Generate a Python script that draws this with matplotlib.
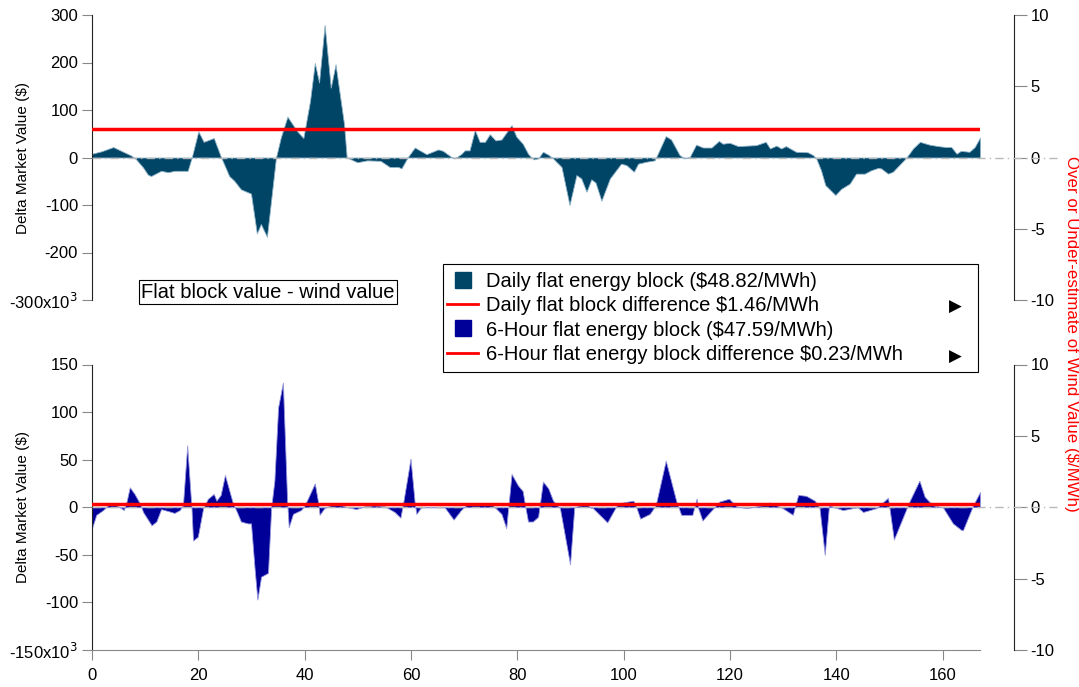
import matplotlib as mpl
mpl.use('Agg')
import matplotlib.pyplot as plt
from matplotlib.lines import Line2D
from matplotlib.patches import Rectangle

mpl.rcParams['font.family'] = ['Liberation Sans', 'DejaVu Sans']
mpl.rcParams['axes.unicode_minus'] = False

# ---- data (hour, delta market value $k) ----
daily_hour = [0, 1.75, 4, 5.5, 7.4, 8.3, 9.6, 10.5, 11.1, 13, 14.3, 15.5, 18, 18.75, 20, 21, 22.9,
              24.25, 25.8, 26.75, 28, 29.9, 31, 31.75, 32.9, 34.6, 35.5, 36.75, 38.6, 39.75, 41,
              41.9, 42.7, 43.75, 44.9, 45.8, 47.4, 47.9, 49.9, 51.75, 54.25, 56, 57.6, 58.2, 59.4,
              60.7, 62.9, 65.1, 66, 67.6, 68.2, 69.5, 70.1, 71, 72, 72.9, 73.9, 74.8, 75.9, 77,
              78.9, 79.8, 81, 82, 83, 83.9, 84.8, 85.8, 86.7, 88.3, 89.8, 91.1, 92, 93, 93.9, 94.7,
              95.8, 97.4, 99.5, 100.5, 101.9, 102.7, 104.2, 105.8, 106.4, 107.9, 108.9, 110.5,
              111.5, 112.4, 113.6, 114.9, 116.5, 117.9, 118.6, 119.9, 121.5, 124.9, 126.7, 127.5,
              128.7, 129.6, 130.5, 132.4, 134.6, 135.6, 136.2, 137.1, 137.9, 139.8, 140.9, 142.5,
              143.7, 145.3, 146.5, 147.8, 148.4, 149.7, 150.6, 153.1, 154.4, 155.7, 157.5, 159.1,
              160.6, 161.6, 162.6, 163.4, 165, 166, 167]
daily_value = [8, 13, 22, 14, 4, -4, -21, -36, -39, -28, -31, -28, -28, 0, 55, 33, 41,
               1, -39, -49, -67, -76, -160, -140, -167, 0, 42, 86, 55, 41, 119,
               199, 158, 279, 147, 196, 70, 0, -10, -6, -7, -20, -20, -23, 1,
               21, 7, 17, 14, 1, -2, 8, 15, 15, 58, 33, 33, 49, 36, 38,
               68, 44, 29, 8, -4, -2, 12, 6, -2, -20, -100, -37, -44, -72, -46, -53,
               -91, -44, -13, -16, -30, -13, -9, -6, 8, 45, 38, 5,
               -2, 1, 27, 21, 21, 35, 29, 31, 24, 26, 33, 19,
               25, 19, 24, 12, 11, 5, -2, -27, -58, -79, -66, -55,
               -34, -34, -27, -22, -23, -34, -30, -1, 19, 33, 27, 24,
               22, 22, 8, 14, 12, 22, 42]

six_hour = [0, 0.8, 2.1, 3, 4.3, 5.2, 6, 6.5, 7.1, 8, 9, 9.6, 11.2, 12.1, 13, 14.3, 15.5, 16.5,
            17.1, 17.9, 18.7, 19, 19.9, 20.9, 21.8, 22.9, 23.4, 24.2, 25, 26.5, 27.1, 28, 29.3,
            29.9, 30.6, 31.1, 31.8, 33.1, 33.7, 34.3, 35, 35.9, 36.7, 37, 37.8, 39.3, 40, 41.9,
            42.5, 42.8, 43.7, 45.6, 46.9, 48.1, 49.7, 51.3, 53.1, 55, 56.9, 58, 58.5, 59.9, 60.7,
            61, 61.9, 66.3, 68, 69.4, 70.7, 75, 77, 77.9, 78.9, 80.1, 81, 81.5, 82, 82.9, 83.9,
            84.8, 85.8, 86.7, 88, 89.9, 90.7, 93, 93.6, 94.2, 96.9, 98.9, 101.8, 102.3, 103.1,
            104.9, 106, 107.9, 109.9, 110.8, 112.9, 113.7, 114, 114.8, 118, 119.8, 121.2, 123.1,
            125.9, 127.4, 129.6, 131.8, 132.8, 134.3, 135.9, 136.8, 137.8, 138.6, 141.2, 144,
            145, 147.5, 149.7, 150.8, 153.8, 155.6, 156.6, 158.1, 160, 161.9, 163.5, 163.8,
            165.7, 167]
six_value = [-22, -8, -3, 2, 3, 0, -3, 6, 21, 14, 4, -5, -19, -15, -2, -4, -6, -3,
             2, 65, 0, -35, -31, -1, 9, 14, 7, 13, 34, 4, -3, -15, -17,
             -17, -66, -97, -73, -69, 0, 28, 105, 131, 6, -21, -7, -3, 2, 25,
             6, -8, -1, 4, 2, 0, -2, 1, 2, 1, -5, -11, 4, 51, 4,
             -7, 0, 0, -13, -3, 4, 4, -7, -22, 35, 23, 17, 0, -15, -15, -10,
             27, 20, 7, -1, -60, 0, 4, 0, -1, -16, 4, 7, 1, -12,
             -7, 2, 49, 6, -8, -8, 9, -1, -14, 6, 9, 1, -1,
             2, 5, 0, -8, 13, 12, 7, 0, -50, 2, -3, 0,
             -5, -1, 10, -34, 7, 28, 11, 2, 0, -17, -24, -24,
             2, 16]

hour_span = [0, 167]
daily_diff = 2.0     # $/MWh, as drawn on the right axis
six_diff = 0.23

legend_labels = ['Daily flat energy block ($48.82/MWh)',
                 'Daily flat block difference $1.46/MWh',
                 '6-Hour flat energy block ($47.59/MWh)',
                 '6-Hour flat energy block difference $0.23/MWh']

top_ticks = [300, 200, 100, 0, -100, -200, -300]
top_labels = ['300', '200', '100', '0', '-100', '-200', '-300x10$^3$']
bot_ticks = [150, 100, 50, 0, -50, -100, -150]
bot_labels = ['150', '100', '50', '0', '-50', '-100', '-150x10$^3$']

daily_color = '#004466'
six_color = '#000099'
W, H = 1079, 687

fig = plt.figure(figsize=(W / 100, H / 100), dpi=100)
ax_top = fig.add_axes([92 / W, 1 - 300 / H, 888 / W, 285 / H])
ax_bot = fig.add_axes([92 / W, 1 - 650 / H, 888 / W, 285.5 / H])


def style_panel(ax, ticks, labels, lim, show_x):
    ax.set_xlim(0, 167)
    ax.set_ylim(-lim, lim)
    ax.set_yticks(ticks)
    ax.set_yticklabels(labels)
    ax.spines['top'].set_visible(False)
    ax.spines['right'].set_visible(False)
    ax.spines['left'].set_color('#222222')
    ax.tick_params(axis='y', direction='out', length=7, color='#888888', labelsize=12, pad=3)
    ax.set_ylabel('Delta Market Value ($)', fontsize=11)
    ax.yaxis.set_label_coords(-0.07, 0.5)
    if show_x:
        ax.spines['bottom'].set_color('#888888')
        ax.set_xticks(range(0, 161, 20))
        ax.tick_params(axis='x', direction='out', length=7, color='#888888', labelsize=12, pad=6)
    else:
        ax.spines['bottom'].set_visible(False)
        ax.set_xticks([])
    ax.patch.set_alpha(0)

    tw = ax.twinx()
    tw.set_ylim(-10, 10)
    tw.set_yticks([10, 5, 0, -5, -10])
    for s in ['top', 'left', 'bottom']:
        tw.spines[s].set_visible(False)
    tw.spines['right'].set_position(('outward', 24.5))
    tw.spines['right'].set_color('#222222')
    tw.tick_params(axis='y', direction='out', length=9, color='#888888', labelsize=12, pad=3)
    tw.axhline(0, xmin=0, xmax=(1057 - 92) / 888, color='#b8b8b8', lw=1,
               ls=(0, (6, 3, 1, 3)), clip_on=False, zorder=5)
    return tw


tw_top = style_panel(ax_top, top_ticks, top_labels, 300, False)
tw_bot = style_panel(ax_bot, bot_ticks, bot_labels, 150, True)

ax_top.fill_between(daily_hour, daily_value, 0, facecolor=daily_color,
                    edgecolor='#8fb3c8', lw=0.6)
ax_bot.fill_between(six_hour, six_value, 0, facecolor=six_color,
                    edgecolor='#9999dd', lw=0.6)
ax_top.set_zorder(1)
ax_bot.set_zorder(1)
tw_top.set_zorder(2)
tw_bot.set_zorder(2)
tw_top.plot(hour_span, [daily_diff, daily_diff], color='red', lw=2.5, zorder=6)
tw_bot.plot(hour_span, [six_diff, six_diff], color='red', lw=2.5, zorder=6)

# right axis title spanning both panels
fig.text(1071 / W, 1 - 334 / H, 'Over or Under-estimate of Wind Value ($/MWh)',
         color='red', rotation=-90, ha='center', va='center', fontsize=12.2)

# annotation box
fig.text(141 / W, 1 - 292 / H, 'Flat block value - wind value', fontsize=14.5,
         ha='left', va='center',
         bbox=dict(boxstyle='square,pad=0.12', fc='white', ec='black', lw=0.8))

# legend frame, drawn separately so it reaches the arrow marks
frame = Rectangle((443 / W, 1 - 372 / H), 535 / W, 108 / H, transform=fig.transFigure,
                  fc='white', ec='black', lw=0.8, zorder=9)
fig.add_artist(frame)

handles = [Line2D([], [], ls='none', marker='s', ms=11, color=daily_color),
           Line2D([], [], color='red', lw=2),
           Line2D([], [], ls='none', marker='s', ms=11, color=six_color),
           Line2D([], [], color='red', lw=2)]
leg = fig.legend(handles, legend_labels, loc='center left',
                 bbox_to_anchor=(447 / W, 1 - 318 / H), fontsize=14.5,
                 frameon=False, handlelength=1.55, handletextpad=0.4,
                 labelspacing=0.25, borderpad=0, borderaxespad=0)
leg.set_zorder(10)

for ypix in [307, 357]:
    fig.text(955 / W, 1 - ypix / H, '\u25B6', fontsize=12, ha='center', va='center',
             family='DejaVu Sans', zorder=11)

fig.savefig('out.png', dpi=100)
